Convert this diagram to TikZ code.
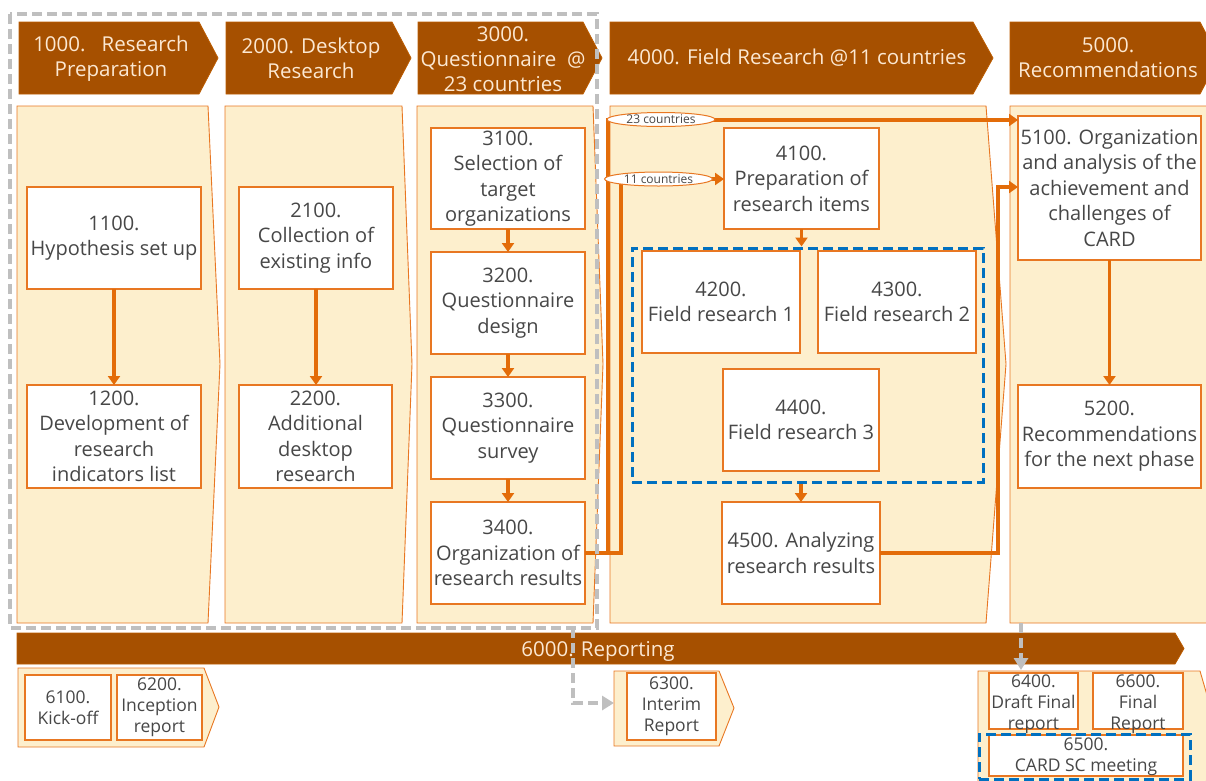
\documentclass[tikz,border=0pt]{standalone}
\usepackage{fontspec}
\setmainfont{Open Sans}
\usetikzlibrary{arrows.meta,shapes.geometric,calc}

\definecolor{hdr}{HTML}{A65000}
\definecolor{hdrtxt}{HTML}{FCE8D2}
\definecolor{panel}{HTML}{FDEFCD}
\definecolor{edge}{HTML}{E87722}
\definecolor{flow}{HTML}{E36C09}
\definecolor{ink}{HTML}{474747}
\definecolor{grpblue}{HTML}{0070C0}
\definecolor{frame}{HTML}{BFBFBF}

\begin{document}
\begin{tikzpicture}[x=1pt,y=-1pt,
  panelshape/.style={fill=panel,draw=edge,line width=0.9pt,line join=miter},
  hdrshape/.style={fill=hdr,draw=hdr!75!orange,line width=0.8pt},
  hdrtext/.style={text=hdrtxt,align=center,inner sep=0pt,
    font=\fontsize{20.5}{25}\selectfont},
  task/.style={draw=edge,fill=white,line width=1.1pt,text=ink,align=center,
    inner sep=0pt,outer sep=0pt,font=\fontsize{20}{25.5}\selectfont},
  smalltask/.style={task,font=\fontsize{17.5}{21}\selectfont},
  smalltext/.style={text=ink,align=center,inner sep=0pt,
    font=\fontsize{17.5}{21}\selectfont},
  flowline/.style={draw=flow,line width=3.3pt,line join=miter},
  flowarrow/.style={flowline,-{Triangle[width=12pt,length=9pt]}},
  countlabel/.style={ellipse,draw=edge,fill=white,line width=1pt,inner sep=0pt,
    minimum width=108pt,minimum height=14pt,text=ink,
    font=\fontsize{12}{12}\selectfont},
  grpbox/.style={draw=grpblue,line width=3pt,dash pattern=on 10pt off 5pt},
  framebox/.style={draw=frame,line width=3.5pt,dash pattern=on 10pt off 5pt},
  grayarrow/.style={draw=frame,line width=4pt,dash pattern=on 10pt off 5pt,
    -{Triangle[width=14pt,length=12pt]}},
]
\useasboundingbox (0,0) rectangle (1206,780);
\clip (0,0) rectangle (1206,780);

% phase panels
\draw[panelshape] (17,106) -- (208,106) -- (220,364) -- (208,623) -- (17,623) -- cycle;
\draw[panelshape] (225,106) -- (402,106) -- (412,364) -- (402,623) -- (225,623) -- cycle;
\draw[panelshape] (417,106) -- (593,106) -- (603,364) -- (593,623) -- (417,623) -- cycle;
\draw[panelshape] (610,106) -- (986,106) -- (1006,364) -- (986,623) -- (610,623) -- cycle;
\draw[panelshape] (1010,106) -- (1215,106) -- (1230,364) -- (1215,623) -- (1010,623) -- cycle;

% phase headers
\draw[hdrshape] (19,22) -- (199,22) -- (218,58) -- (199,94) -- (19,94) -- cycle;
\draw[hdrshape] (226,22) -- (392,22) -- (411,58) -- (392,94) -- (226,94) -- cycle;
\draw[hdrshape] (418,22) -- (583,22) -- (602,58) -- (583,94) -- (418,94) -- cycle;
\draw[hdrshape] (610,22) -- (973,22) -- (993,58) -- (973,94) -- (610,94) -- cycle;
\draw[hdrshape] (1010,22) -- (1200,22) -- (1219,58) -- (1200,94) -- (1010,94) -- cycle;
\node[hdrtext] (h1000) at (111,59) {1000.\ \ \ Research\\Preparation};
\node[hdrtext] (h2000) at (311,58) {2000. Desktop\\Research};
\node[hdrtext] (h3000) at (503,59) {3000.\\Questionnaire\ \ @\\23 countries};
\node[hdrtext] (h4000) at (797,58) {4000. Field Research @11 countries};
\node[hdrtext] (h5000) at (1108,58) {5000.\\Recommendations};

% reporting bar
\draw[hdrshape] (17,633) -- (1175,633) -- (1184,648.5) -- (1175,664) -- (17,664) -- cycle;
\node[hdrtext] (h6000) at (598,651) {6000. Reporting};

% reporting panels
\draw[panelshape] (18,668) -- (204,668) -- (219,707) -- (204,747) -- (18,747) -- cycle;
\draw[panelshape] (614,671) -- (719,671) -- (734,708) -- (719,746) -- (614,746) -- cycle;
\draw[panelshape] (978,671) -- (1200,671) -- (1220,740) -- (1200,800) -- (978,800) -- cycle;

% tasks
\node[task,minimum width=174pt,minimum height=102pt] (t1100) at (114,238) {1100.\\Hypothesis set up};
\node[task,minimum width=174pt,minimum height=103pt] (t1200) at (114,436.5) {1200.\\Development of\\research\\indicators list};
\node[task,minimum width=154pt,minimum height=102pt] (t2100) at (316,238) {2100.\\Collection of\\existing info};
\node[task,minimum width=153pt,minimum height=103pt] (t2200) at (315.5,436.5) {2200.\\Additional\\desktop\\research};
\node[task,minimum width=154pt,minimum height=101pt] (t3100) at (508,178.5) {3100.\\Selection of\\target\\organizations};
\node[task,minimum width=154pt,minimum height=102pt] (t3200) at (508,303) {3200.\\Questionnaire\\design};
\node[task,minimum width=154pt,minimum height=102pt] (t3300) at (508,428) {3300.\\Questionnaire\\survey};
\node[task,minimum width=154pt,minimum height=102pt] (t3400) at (508,553) {3400.\\Organization of\\research results};
\node[task,minimum width=155pt,minimum height=101pt] (t4100) at (801.5,178.5) {4100.\\Preparation of\\research items};
\node[task,minimum width=158pt,minimum height=102pt] (t4200) at (721,302) {4200.\\Field research 1};
\node[task,minimum width=158pt,minimum height=102pt] (t4300) at (897,302) {4300.\\Field research 2};
\node[task,minimum width=156pt,minimum height=102pt] (t4400) at (801,420) {4400.\\Field research 3};
\node[task,minimum width=158pt,minimum height=102pt] (t4500) at (801,553) {4500. Analyzing\\research results};
\node[task,minimum width=183pt,minimum height=144pt] (t5100) at (1109.5,188) {5100. Organization\\and analysis of the\\achievement and\\challenges of\\CARD};
\node[task,minimum width=183pt,minimum height=103pt] (t5200) at (1109.5,436.5) {5200.\\Recommendations\\for the next phase};

\node[smalltask,minimum width=86pt,minimum height=65pt] (t6100) at (68,707.5) {6100.\\Kick-off};
\node[smalltask,minimum width=85pt,minimum height=65pt] (t6200) at (159.5,707.5) {6200.\\Inception\\report};
\node[smalltask,minimum width=89pt,minimum height=67pt] (t6300) at (671.5,706.5) {6300.\\Interim\\Report};
\node[smalltask,minimum width=89pt,minimum height=56pt] (t6400) at (1033.5,701) {};
\node[smalltask,minimum width=90pt,minimum height=56pt] (t6600) at (1138,701) {};
\node[smalltask,minimum width=194pt,minimum height=41pt] (t6500) at (1086,755.5) {};
% texts of the last reporting tasks sit a little low in their boxes
\node[smalltext] (x6400) at ([yshift=-3pt]t6400.center) {6400.\\Draft Final\\report};
\node[smalltext] (x6600) at ([yshift=-3pt]t6600.center) {6600.\\Final\\Report};
\node[smalltext] (x6500) at ([yshift=-1pt]t6500.center) {6500.\\CARD SC meeting};

% field research group and meeting group
\node[grpbox,minimum width=351pt,minimum height=234pt] (fieldgrp) at (807.5,365) {};
\node[grpbox,minimum width=211pt,minimum height=45pt] (meetgrp) at (1084.5,756.5) {};

% flows inside phases
\draw[flowarrow] (t1100.south) -- (t1200.north);
\draw[flowarrow] (t2100.south) -- (t2100.south |- t2200.north);
\draw[flowarrow] (t3100) -- (t3200);
\draw[flowarrow] (t3200) -- (t3300);
\draw[flowarrow] (t3300) -- (t3400);
\draw[flowarrow] (t4100.south) -- (t4100.south |- fieldgrp.north);
\draw[flowarrow] (t4500.north |- fieldgrp.south) -- (t4500.north);
\draw[flowarrow] (t5100.south) -- (t5200.north);

% flows between phases
\coordinate (bend23) at (608,120);
\coordinate (bend11) at (621,179);
\coordinate (bend45) at (998,187);
\draw[flowarrow] (t3400.east) -| (bend23) -- (bend23 -| t5100.west);
\draw[flowarrow] (t3400.east) -| (bend11) -- (bend11 -| t4100.west);
\draw[flowarrow] (t4500.east) -| (bend45) -- (bend45 -| t5100.west);
\node[countlabel] (l23) at (661,119.5) {23 countries};
\node[countlabel] (l11) at (658.5,179) {11 countries};

% preparatory phases frame and reporting links
\draw[framebox] (10,14) rectangle (597,628);
\coordinate (frameout) at (573,628);
\coordinate (interimin) at (614,703);
\draw[grayarrow] (frameout) |- (interimin);
\coordinate (recout) at (1021,623);
\coordinate (finalin) at (1021,670);
\draw[grayarrow] (recout) -- (finalin);
\end{tikzpicture}
\end{document}
